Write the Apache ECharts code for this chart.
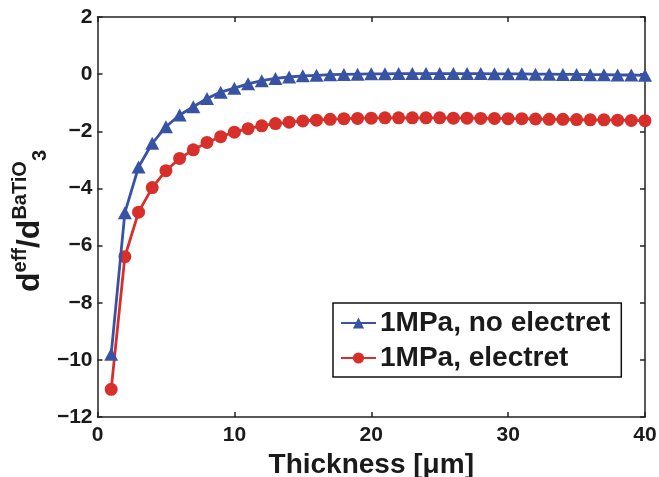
<!DOCTYPE html>
<html>
<head>
<meta charset="utf-8">
<script src="https://cdn.jsdelivr.net/npm/echarts@6/dist/echarts.min.js"></script>
<style>
html,body{margin:0;padding:0;background:#fff;}
#c{width:659px;height:477px;}
</style>
</head>
<body>
<div id="c"></div>
<script>
// ---- data ----
var thickness = [1,2,3,4,5,6,7,8,9,10,11,12,13,14,15,16,17,18,19,20,21,22,23,24,25,26,27,28,29,30,31,32,33,34,35,36,37,38,39,40];
var noElectret = [-9.8,-4.85,-3.25,-2.42,-1.84,-1.43,-1.14,-0.85,-0.63,-0.49,-0.34,-0.23,-0.15,-0.1,-0.06,-0.04,-0.02,-0.01,0.0,0.01,0.01,0.02,0.02,0.02,0.02,0.02,0.02,0.02,0.01,0.01,0.01,0.0,0.0,-0.01,-0.01,-0.02,-0.02,-0.03,-0.03,-0.04];
var electret = [-11.03,-6.39,-4.83,-3.97,-3.38,-2.95,-2.65,-2.39,-2.19,-2.03,-1.91,-1.81,-1.73,-1.68,-1.64,-1.61,-1.58,-1.56,-1.55,-1.54,-1.53,-1.53,-1.53,-1.53,-1.53,-1.54,-1.54,-1.55,-1.55,-1.56,-1.56,-1.57,-1.58,-1.58,-1.59,-1.6,-1.6,-1.61,-1.62,-1.63];
var seriesNames = ['1MPa, no electret', '1MPa, electret'];
var xTicks = [0, 10, 20, 30, 40];
var yTicks = [-12, -10, -8, -6, -4, -2, 0, 2];
var xTitle = 'Thickness [\u03bcm]';

function pairs(xs, ys){ return xs.map(function(x,i){ return [x, ys[i]]; }); }

var FONT = '"Liberation Sans", Arial, Helvetica, sans-serif';
var AX = '#222';
var chart = echarts.init(document.getElementById('c'), null, {renderer:'canvas'});

var axisCommon = {
  type: 'value',
  axisLine: {show: true, onZero: false, lineStyle: {color: AX, width: 1.5}},
  axisTick: {show: true, inside: true, length: 5, lineStyle: {color: AX, width: 1.5}},
  splitLine: {show: false}
};

var option = {
  animation: false,
  backgroundColor: '#fff',
  grid: {left: 97.5, right: 14, top: 17, bottom: 60, containLabel: false, outerBoundsMode: 'none'},
  xAxis: [
    Object.assign({}, axisCommon, {
      position: 'bottom', min: xTicks[0], max: xTicks[xTicks.length-1], interval: 10,
      axisLabel: {show: true, margin: 8, color: '#1a1a1a', fontFamily: FONT, fontWeight: 'bold', fontSize: 21},
      name: xTitle, nameLocation: 'middle', nameGap: 31,
      nameTextStyle: {color: '#1a1a1a', fontFamily: FONT, fontWeight: 'bold', fontSize: 28, verticalAlign: 'top'}
    }),
    Object.assign({}, axisCommon, {
      position: 'top', min: xTicks[0], max: xTicks[xTicks.length-1], interval: 10,
      axisLabel: {show: false}
    })
  ],
  yAxis: [
    Object.assign({}, axisCommon, {
      position: 'left', min: yTicks[0], max: yTicks[yTicks.length-1], interval: 2,
      axisLabel: {show: true, margin: 5, color: '#1a1a1a', fontFamily: FONT, fontWeight: 'bold', fontSize: 21,
        formatter: function(v){ return v < 0 ? '\u2212' + Math.abs(v) : String(v); }}
    }),
    Object.assign({}, axisCommon, {
      position: 'right', min: yTicks[0], max: yTicks[yTicks.length-1], interval: 2,
      axisLabel: {show: false}
    })
  ],
  legend: {
    orient: 'vertical',
    left: 333, top: 303,
    padding: [6, 11, 5, 7],
    itemWidth: 35, itemHeight: 14, itemGap: 7,
    backgroundColor: '#fff',
    borderColor: '#111', borderWidth: 1.5,
    textStyle: {color: '#1a1a1a', fontFamily: FONT, fontWeight: 'bold', fontSize: 28, lineHeight: 28, padding: [0,0,0,-1]},
    data: seriesNames
  },
  graphic: [{
    type: 'text',
    x: 30, y: 221,
    rotation: Math.PI / 2,
    style: {
      text: '{b|d}{sup|eff}{b|/d}{sup|BaTiO}{sub|3}',
      align: 'center', verticalAlign: 'middle',
      fill: '#1a1a1a',
      font: 'bold 32px ' + FONT,
      rich: {
        b: {fontSize: 32, fontWeight: 'bold', fontFamily: FONT, fill: '#1a1a1a', lineHeight: 40, verticalAlign: 'middle'},
        sup: {fontSize: 20, fontWeight: 'bold', fontFamily: FONT, fill: '#1a1a1a', lineHeight: 20, verticalAlign: 'top'},
        sub: {fontSize: 20, fontWeight: 'bold', fontFamily: FONT, fill: '#1a1a1a', lineHeight: 20, verticalAlign: 'bottom'}
      }
    }
  }],
  series: [
    {
      name: seriesNames[0], type: 'line', xAxisIndex: 0, yAxisIndex: 0,
      data: pairs(thickness, noElectret),
      symbol: 'triangle', symbolSize: [14, 13],
      itemStyle: {color: '#3953a4'},
      lineStyle: {color: '#3953a4', width: 2.8},
      z: 3
    },
    {
      name: seriesNames[1], type: 'line', xAxisIndex: 0, yAxisIndex: 0,
      data: pairs(thickness, electret),
      symbol: 'circle', symbolSize: 13,
      itemStyle: {color: '#d7302a'},
      lineStyle: {color: '#d7302a', width: 2.8},
      z: 2
    }
  ]
};
chart.setOption(option);
</script>
</body>
</html>
